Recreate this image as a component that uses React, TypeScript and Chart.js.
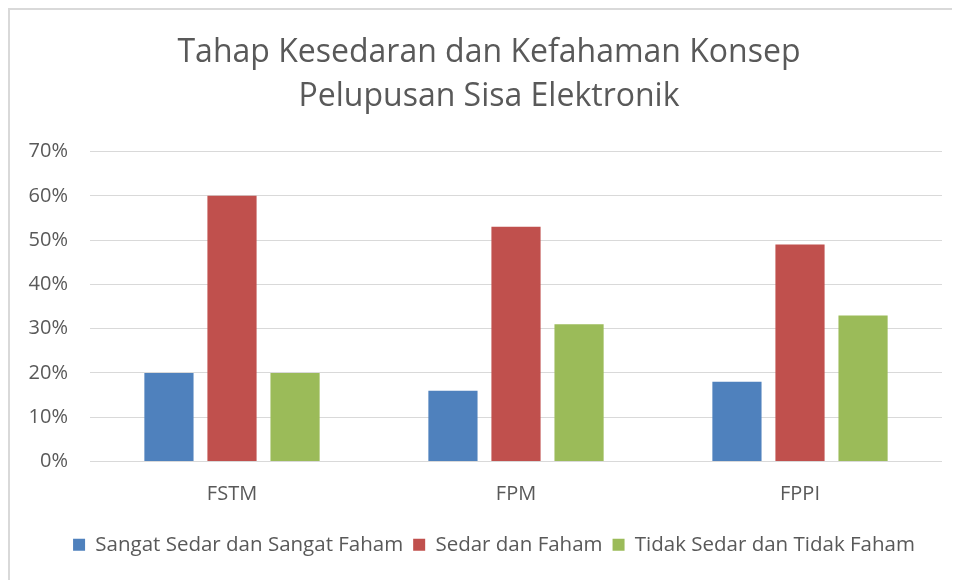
import React, { useEffect, useRef } from "react";
import { Chart, registerables } from "chart.js";

Chart.register(...registerables);

const categories = ["FSTM", "FPM", "FPPI"];
const seriesNames = [
  "Sangat Sedar dan Sangat Faham",
  "Sedar dan Faham",
  "Tidak Sedar dan Tidak Faham",
];
const sangatSedar = [20, 16, 18];
const sedar = [60, 53, 49];
const tidakSedar = [20, 31, 33];
const seriesColors = ["#4F81BD", "#C0504D", "#9BBB59"];
const titleLines = [
  "Tahap Kesedaran dan Kefahaman Konsep",
  "Pelupusan Sisa Elektronik",
];
const yMax = 70;
const yStep = 10;

const FONT = "'Open Sans', sans-serif";
const TEXT = "#595959";

const shiftBlocks = {
  id: "shiftBlocks",
  afterLayout(chart: any) {
    if (chart.titleBlock) chart.titleBlock.left += 26;
    if (chart.legend) chart.legend.left += 36;
  },
};

export default function App() {
  const ref = useRef<HTMLCanvasElement | null>(null);

  useEffect(() => {
    if (!ref.current) return;
    const values = [sangatSedar, sedar, tidakSedar];
    const chart = new Chart(ref.current, {
      type: "bar",
      data: {
        labels: categories,
        datasets: seriesNames.map((name, i) => ({
          label: name,
          data: values[i],
          backgroundColor: seriesColors[i],
          borderWidth: 0,
          categoryPercentage: 0.666,
          barPercentage: 0.78,
        })),
      },
      plugins: [shiftBlocks],
      options: {
        animation: false,
        responsive: false,
        layout: { padding: { left: 0, right: 18, top: 0, bottom: 15 } },
        plugins: {
          title: {
            display: true,
            text: titleLines,
            color: TEXT,
            font: { family: FONT, size: 32, weight: "normal", lineHeight: 1.4 },
            padding: { top: 20, bottom: 32 },
          },
          legend: {
            position: "bottom",
            labels: {
              color: TEXT,
              font: { family: FONT, size: 20.5 },
              boxWidth: 12,
              boxHeight: 12,
              padding: 10,
            },
          },
          tooltip: { enabled: false },
        },
        scales: {
          x: {
            grid: { display: false },
            border: { display: false },
            ticks: {
              color: TEXT,
              font: { family: FONT, size: 20 },
              padding: 13,
            },
            afterFit: (scale: any) => {
              scale.height += 5;
            },
          },
          y: {
            min: 0,
            max: yMax,
            grid: { color: "#D9D9D9", lineWidth: 1, drawTicks: false },
            border: { display: false },
            ticks: {
              stepSize: yStep,
              color: TEXT,
              font: { family: FONT, size: 20 },
              padding: 22,
              callback: (v: any) => v + "%",
            },
            afterFit: (scale: any) => {
              scale.width = 80;
            },
          },
        },
      },
    });
    return () => chart.destroy();
  }, []);

  return (
    <div
      style={{
        width: 952,
        height: 572,
        boxSizing: "border-box",
        borderTop: "2px solid #D9D9D9",
        borderLeft: "2px solid #D9D9D9",
        background: "#fff",
        overflow: "hidden",
      }}
    >
      <canvas ref={ref} width={950} height={570} style={{ display: "block" }} />
    </div>
  );
}
